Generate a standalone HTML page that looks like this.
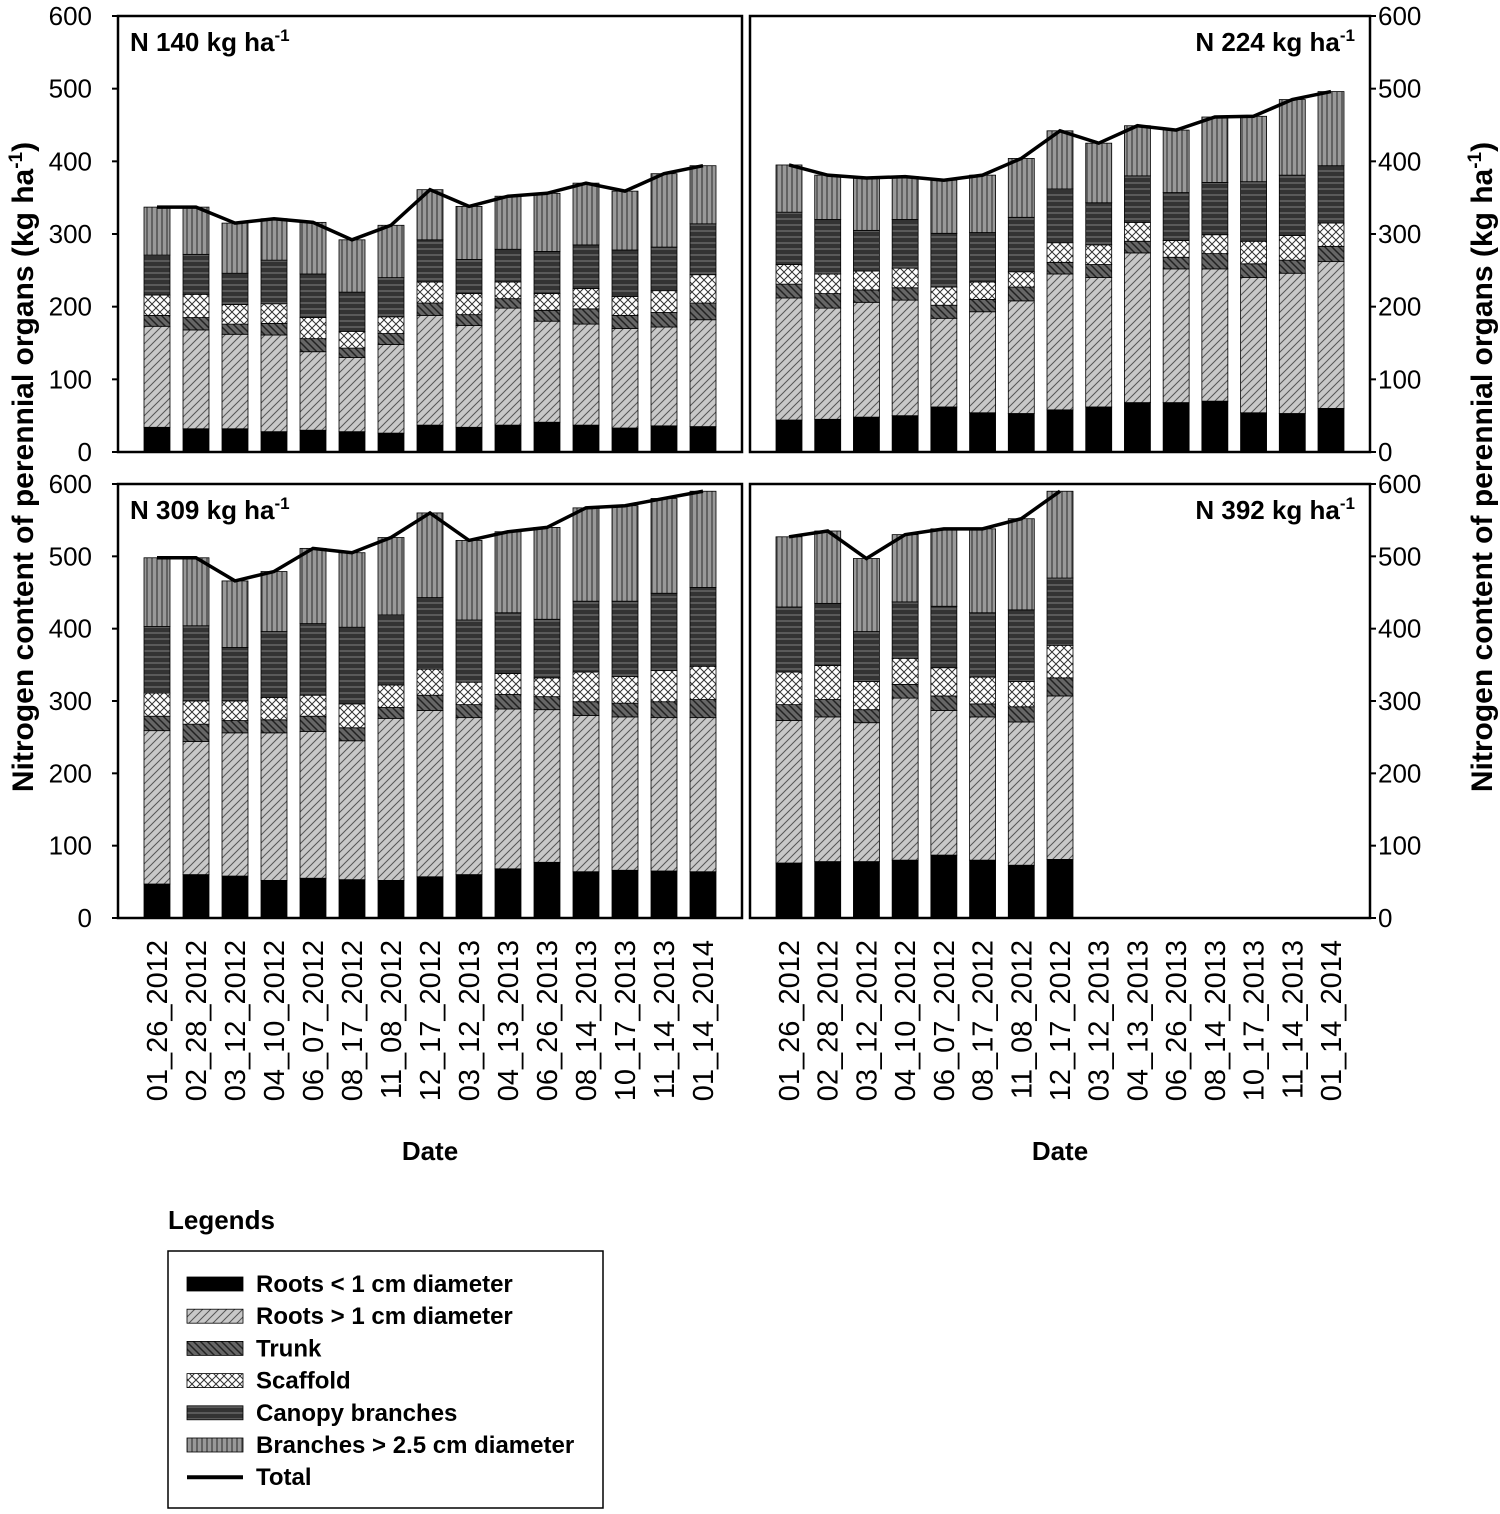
<!DOCTYPE html>
<html><head><meta charset="utf-8"><style>
body{margin:0;background:#fff}
svg{display:block;font-family:"Liberation Sans",Arial,sans-serif}
</style></head><body>
<svg id="chart" width="1500" height="1514" viewBox="0 0 1500 1514" xmlns="http://www.w3.org/2000/svg">
<defs>
<pattern id="p1" patternUnits="userSpaceOnUse" width="8" height="8"><rect width="8" height="8" fill="#c8c8c8"/><path d="M0,8 L8,0 M-2,2 L2,-2 M6,10 L10,6" stroke="#555" stroke-width="1"/></pattern>
<pattern id="p2" patternUnits="userSpaceOnUse" width="7" height="7"><rect width="7" height="7" fill="#666"/><path d="M0,0 L7,7 M-2,5 L2,9 M5,-2 L9,2" stroke="#222" stroke-width="1.5"/></pattern>
<pattern id="p3" patternUnits="userSpaceOnUse" width="8" height="8"><rect width="8" height="8" fill="#fff"/><path d="M0,0 L8,8 M8,0 L0,8" stroke="#333" stroke-width="1"/></pattern>
<pattern id="p4" patternUnits="userSpaceOnUse" width="6" height="6"><rect width="6" height="6" fill="#333"/><path d="M0,3 L6,3" stroke="#666" stroke-width="1.5"/></pattern>
<pattern id="p5" patternUnits="userSpaceOnUse" width="5" height="5"><rect width="5" height="5" fill="#999"/><path d="M2,0 L2,5" stroke="#444" stroke-width="1.3"/></pattern>
</defs>
<g id="plots"></g>
</svg>
<script>
const dates=["01_26_2012","02_28_2012","03_12_2012","04_10_2012","06_07_2012","08_17_2012","11_08_2012","12_17_2012","03_12_2013","04_13_2013","06_26_2013","08_14_2013","10_17_2013","11_14_2013","01_14_2014"];
const yTicks=[0,100,200,300,400,500,600];
const seriesNames=["Roots < 1 cm diameter","Roots > 1 cm diameter","Trunk","Scaffold","Canopy branches","Branches > 2.5 cm diameter","Total"];
const panelTitles=["N 140 kg ha","N 224 kg ha","N 309 kg ha","N 392 kg ha"];
// cumulative tops: [roots<1, +roots>1, +trunk, +scaffold, +canopy, total]
const n140=[[34,173,188,216,271,337],[32,168,185,217,272,337],[32,162,176,203,246,315],[28,161,177,204,264,321],[30,138,156,185,245,316],[28,130,143,166,220,292],[26,148,163,186,240,312],[37,188,205,234,292,361],[34,174,189,218,265,338],[37,198,211,234,279,352],[41,180,195,218,276,356],[37,176,197,225,285,370],[33,170,188,214,278,359],[36,172,192,222,282,383],[35,182,205,244,314,394]];
const n224=[[44,212,231,258,330,395],[45,198,218,245,320,381],[48,206,223,249,305,377],[50,209,226,253,320,379],[62,184,202,227,301,374],[54,193,210,234,302,381],[53,208,227,248,323,404],[58,245,261,288,362,442],[62,240,258,285,343,425],[68,274,290,316,380,449],[68,252,268,291,357,443],[70,252,273,299,371,461],[54,240,259,290,372,462],[53,246,264,298,381,485],[60,262,283,315,394,496]];
const n309=[[47,259,279,311,403,498],[60,244,268,300,404,498],[58,256,273,300,374,466],[52,256,274,305,396,479],[55,258,279,308,407,511],[53,245,263,296,402,505],[52,276,291,322,419,526],[57,287,308,344,443,560],[60,277,295,326,412,522],[68,289,309,338,422,534],[77,288,306,332,413,540],[64,280,299,340,438,567],[66,278,297,334,438,570],[65,277,299,342,449,580],[64,277,302,348,457,590]];
const n392=[[76,273,295,340,430,527],[78,278,302,349,435,535],[78,270,288,327,396,497],[80,304,323,359,437,530],[87,287,307,346,431,538],[80,278,296,333,422,538],[73,271,292,327,426,552],[81,307,332,377,470,590]];

const NS="http://www.w3.org/2000/svg";
const root=document.getElementById('plots');
function mk(tag,attrs,parent,text){const e=document.createElementNS(NS,tag);for(const k in attrs)e.setAttribute(k,attrs[k]);if(text!==undefined)e.textContent=text;(parent||root).appendChild(e);return e;}
const fills=["#000","url(#p1)","url(#p2)","url(#p3)","url(#p4)","url(#p5)"];
const panels=[
 {x0:118,x1:742,top:16,bot:452,data:n140,left:true,title:0,tx:130,anchor:"start"},
 {x0:750,x1:1370,top:16,bot:452,data:n224,left:false,title:1,tx:1355,anchor:"end"},
 {x0:118,x1:742,top:484,bot:918,data:n309,left:true,title:2,tx:130,anchor:"start"},
 {x0:750,x1:1370,top:484,bot:918,data:n392,left:false,title:3,tx:1355,anchor:"end"}];
const titleNums=["140","224","309","392"];
panels.forEach((p,pi)=>{
 const g=mk('g',{});
 
 
 const y=v=>p.bot-(v/600)*(p.bot-p.top);
 const xc=i=>p.x0+39+i*((p.x1-p.x0-78)/(dates.length-1));
 const bw=26;
 p.data.forEach((d,i)=>{
  let prev=0;
  for(let s=0;s<6;s++){
   const r=mk('rect',{x:xc(i)-bw/2,y:y(d[s]),width:bw,height:y(prev)-y(d[s]),fill:fills[s],stroke:"#000","stroke-width":0.8},g);
   
   
   prev=d[s];
  }
 });
 const pts=p.data.map((d,i)=>xc(i)+','+y(d[5])).join(' ');
 const ln=mk('polyline',{points:pts,fill:"none",stroke:"#000","stroke-width":3.5},g);
 
 
 const fr=mk('rect',{x:p.x0,y:p.top,width:p.x1-p.x0,height:p.bot-p.top,fill:"none",stroke:"#000","stroke-width":2.5},g);
 
 
 yTicks.forEach(t=>{
  const ax=p.left?p.x0:p.x1;
  mk('line',{x1:ax,x2:p.left?ax-6:ax+6,y1:y(t),y2:y(t),stroke:"#000","stroke-width":2},g);
  const tl=mk('text',{x:p.left?92:1378,y:y(t)+9,"font-size":26,"text-anchor":p.left?"end":"start"},g,String(t));
  
  
 });
 const tt=mk('text',{x:p.tx,y:p.top+35,"font-size":26,"font-weight":"bold","text-anchor":p.anchor},g);
 
 
 tt.textContent=panelTitles[p.title];
 mk('tspan',{dy:-10,"font-size":17},tt,"-1");
 if(pi>=2){
  dates.forEach((dt,i)=>{
   const lb=mk('text',{transform:`translate(${xc(i)+10},940) rotate(-90)`,"font-size":29,"text-anchor":"end"},g,dt);
   
   
  });
  const xt=mk('text',{x:(p.x0+p.x1)/2,y:1160,"font-size":26,"font-weight":"bold","text-anchor":"middle"},g,"Date");
  
  
 }
});
// y titles
[[33,467],[1492,467]].forEach(([x,yy],k)=>{
 const t=mk('text',{transform:`translate(${x},${yy}) rotate(-90)`,"font-size":30,"font-weight":"bold","text-anchor":"middle"});
 
 
 t.textContent="Nitrogen content of perennial organs (kg ha";
 mk('tspan',{dy:-11,"font-size":19},t,"-1");
 mk('tspan',{dy:11},t,")");
});
// legend
const lg=mk('g',{});


const lt=mk('text',{x:168,y:1229,"font-size":26,"font-weight":"bold"},lg,"Legends");


mk('rect',{x:168,y:1251,width:435,height:257,fill:"none",stroke:"#000","stroke-width":1.5},lg);
seriesNames.forEach((n,i)=>{
 const cy=1284+i*32.2;
 const e=mk('g',{},lg);
 
 
 if(i<6) mk('rect',{x:187,y:cy-7,width:56,height:14,fill:fills[i],stroke:"#000","stroke-width":0.8},e);
 else mk('line',{x1:187,x2:243,y1:cy,y2:cy,stroke:"#000","stroke-width":4},e);
 mk('text',{x:256,y:cy+8,"font-size":24,"font-weight":"bold"},e,n);
});
</script>
</body></html>
